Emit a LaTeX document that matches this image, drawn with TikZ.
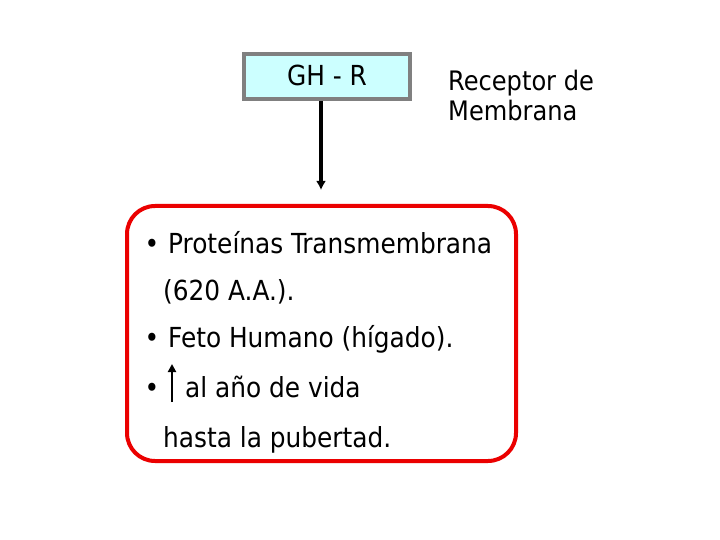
\documentclass[tikz,border=0pt]{standalone}
\usepackage{fontspec}
\setmainfont{DejaVu Sans Condensed}
\usetikzlibrary{arrows.meta, positioning}
\definecolor{ghfill}{RGB}{204,255,255}
\definecolor{ghgray}{RGB}{128,128,128}
\definecolor{boxred}{RGB}{235,0,0}

\begin{document}
\begin{tikzpicture}[x=1pt, y=-1pt, font=\fontsize{27.6}{30}\selectfont,
    txt/.style={anchor=base west, inner sep=0pt},
    dot/.style={anchor=base, inner sep=0pt}]
    \useasboundingbox (0,0) rectangle (720,540);
    % receptor
    \node[draw=ghgray, line width=4pt, fill=ghfill, minimum width=166pt, minimum height=45pt] (gh) at (327,76.5) {};
    \node[anchor=base, inner sep=0pt] (ghtxt) at (327,86) {GH - R};
    \node[txt, font=\fontsize{26.8}{30}\selectfont] (rec1) at (448,90.5) {Receptor de};
    \node[txt, font=\fontsize{26.8}{30}\selectfont] (rec2) at (448,120.5) {Membrana};
    % caja roja
    \node[draw=boxred, line width=4pt, rounded corners=28pt, minimum width=389pt, minimum height=255pt] (caja) at (321.5,333.5) {};
    \coordinate (tip) at (321,190);
    \draw[-{Latex[length=9pt, width=10pt]}, line width=3.5pt] (gh.south -| tip) -- (tip);
    % lineas de texto
    \foreach \y/\n in {253/1, 347/3, 397/4} {
        \node[dot] (b\n) at (152,\y) {•};
    }
    \node[txt] (l1) at (168,253) {Proteínas Transmembrana};
    \node[txt] (l2) at (163,300) {(620 A.A.).};
    \node[txt] (l3) at (168,347) {Feto Humano (hígado).};
    \coordinate (up0) at (172,402);
    \coordinate (up1) at (172,364);
    \draw[-{Triangle[length=8pt, width=8pt]}, line width=2.5pt] (up0) -- (up1);
    \node[txt] (l4) at (185,397) {al año de vida};
    \node[txt] (l5) at (163,447) {hasta la pubertad.};
\end{tikzpicture}
\end{document}
